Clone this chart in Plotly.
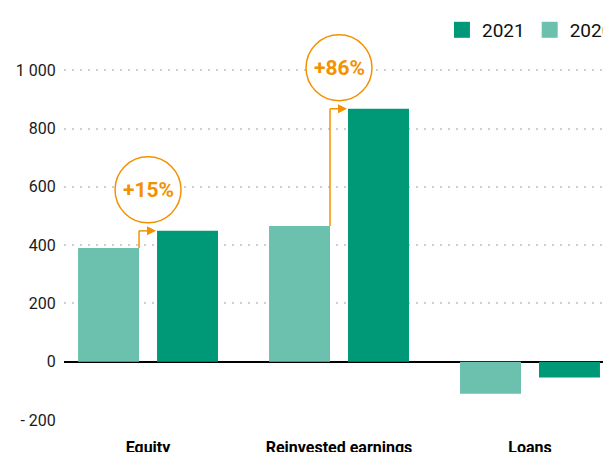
import plotly.graph_objects as go

categories = ["Equity", "Reinvested earnings", "Loans"]
values_2020 = [390, 466, -110]
values_2021 = [449, 868, -54]
growth_labels = ["+15%", "+86%", None]
series_names = ["2021", "2020"]
y_tick_values = [-200, 0, 200, 400, 600, 800, 1000]
y_tick_labels = ["- 200", "0", "200", "400", "600", "800", "1 000"]

C2021 = "#009977"
C2020 = "#6BC1AD"
ORANGE = "#F39200"
FONT = "Roboto, Liberation Sans, sans-serif"

fig = go.Figure()
fig.add_trace(go.Bar(name="2020", x=categories, y=values_2020, showlegend=False,
                     marker=dict(color=C2020, line=dict(width=0))))
fig.add_trace(go.Bar(name="2021", x=categories, y=values_2021, showlegend=False,
                     marker=dict(color=C2021, line=dict(width=0))))
# legend entries with larger square swatches
for name, col in zip(series_names, [C2021, C2020]):
    fig.add_trace(go.Scatter(name=name, x=[None], y=[None], mode="markers",
                             marker=dict(symbol="square", size=16, color=col,
                                         line=dict(width=0))))

HALF_GAP = 9      # px between the two bars of a group / 2
CIRCLE_R = 33     # px
CIRCLE_RISE = 41  # px above the 2021 bar top

for cat, v0, v1, lab in zip(categories, values_2020, values_2021, growth_labels):
    if not lab:
        continue
    line = dict(color=ORANGE, width=1.5)
    fig.add_shape(type="line", xref="x", yref="y", xsizemode="pixel", xanchor=cat,
                  x0=-HALF_GAP, x1=-HALF_GAP, y0=v0, y1=v1, line=line)
    fig.add_shape(type="line", xref="x", yref="y", xsizemode="pixel", xanchor=cat,
                  x0=-HALF_GAP, x1=0, y0=v1, y1=v1, line=line)
    fig.add_shape(type="path", xref="x", yref="y", xsizemode="pixel", ysizemode="pixel",
                  xanchor=cat, yanchor=v1, path="M -1,-4.5 L 8,0 L -1,4.5 Z",
                  fillcolor=ORANGE, line=dict(width=0))
    fig.add_shape(type="circle", xref="x", yref="y", xsizemode="pixel", ysizemode="pixel",
                  xanchor=cat, yanchor=v1, x0=-CIRCLE_R, x1=CIRCLE_R,
                  y0=CIRCLE_RISE - CIRCLE_R, y1=CIRCLE_RISE + CIRCLE_R,
                  fillcolor="white", line=dict(color=ORANGE, width=1.5))
    fig.add_annotation(x=cat, y=v1, yshift=CIRCLE_RISE, text=lab, showarrow=False,
                       font=dict(family=FONT, size=21, color=ORANGE, weight="bold"))

fig.update_layout(
    width=611, height=452,
    margin=dict(l=56, r=0, t=4.2, b=39.7, autoexpand=False),
    paper_bgcolor="white", plot_bgcolor="white",
    barmode="group", bargap=0.173, bargroupgap=0.228,
    font=dict(family=FONT, color="#1a1a1a"),
    legend=dict(orientation="h", x=0.681, xanchor="left",
                y=0.956, yanchor="middle", font=dict(size=19, color="#111"),
                bgcolor="rgba(0,0,0,0)"),
    xaxis=dict(range=[-0.44, 2.466], showgrid=False, showline=False, zeroline=False,
               automargin=False,
               ticks="outside", ticklen=13, tickcolor="rgba(0,0,0,0)",
               tickfont=dict(size=16, color="#000", weight="bold")),
    yaxis=dict(range=[-200, 1200], tickvals=y_tick_values, ticktext=y_tick_labels,
               automargin=False,
               showgrid=True, gridcolor="#cfcfcf", gridwidth=2, griddash="2px,6px",
               zeroline=True, zerolinecolor="#000", zerolinewidth=1.5, showline=False,
               ticks="outside", ticklen=4, tickcolor="rgba(0,0,0,0)",
               tickfont=dict(size=16, color="#1a1a1a")),
)

fig.write_html("out.html")
